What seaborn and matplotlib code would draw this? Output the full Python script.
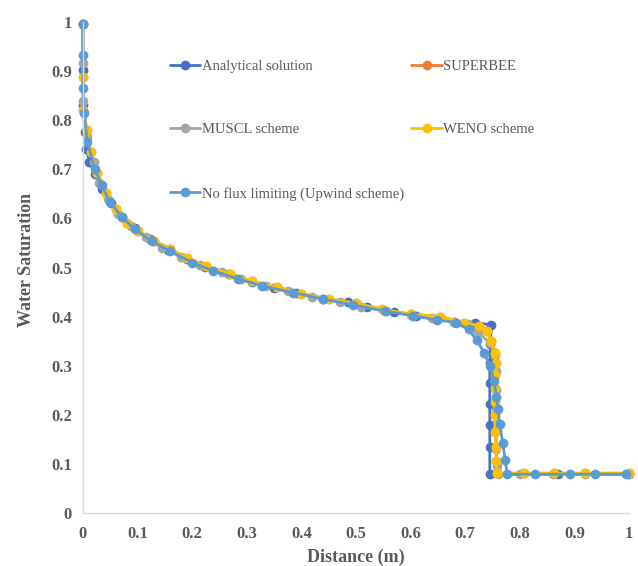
import matplotlib
matplotlib.use("Agg")
import matplotlib.pyplot as plt
import seaborn as sns
import pandas as pd

# ---- data ----
ana_x = [0, 0, 0.001, 0.003, 0.006, 0.012, 0.022, 0.035, 0.052, 0.072,
         0.095, 0.122, 0.155, 0.19, 0.223, 0.268, 0.31, 0.35, 0.39, 0.44,
         0.486, 0.52, 0.57, 0.61, 0.646, 0.68, 0.718, 0.748, 0.746, 0.745,
         0.745, 0.745, 0.745, 0.745, 0.745, 0.87, 1.0]
ana_y = [0.995, 0.902, 0.831, 0.775, 0.742, 0.715, 0.69, 0.66, 0.632, 0.603,
         0.58, 0.558, 0.535, 0.517, 0.502, 0.487, 0.47, 0.458, 0.449, 0.436,
         0.43, 0.419, 0.41, 0.402, 0.396, 0.39, 0.388, 0.383, 0.345, 0.305,
         0.264, 0.223, 0.179, 0.135, 0.079, 0.079, 0.079]

sb_x = [0, 0, 0.001, 0.007, 0.014, 0.026, 0.043, 0.06, 0.08, 0.1,
        0.13, 0.16, 0.19, 0.225, 0.27, 0.31, 0.355, 0.4, 0.45, 0.5,
        0.548, 0.6, 0.654, 0.698, 0.726, 0.739, 0.748, 0.755, 0.756, 0.755,
        0.754, 0.754, 0.754, 0.755, 0.756, 0.757, 0.758, 0.807, 0.863, 0.92, 1.0]
sb_y = [0.995, 0.889, 0.821, 0.78, 0.736, 0.692, 0.652, 0.62, 0.59, 0.575,
        0.555, 0.537, 0.52, 0.503, 0.487, 0.472, 0.46, 0.447, 0.436, 0.427,
        0.415, 0.405, 0.40, 0.388, 0.381, 0.371, 0.351, 0.325, 0.305, 0.281,
        0.255, 0.227, 0.2, 0.166, 0.135, 0.105, 0.081, 0.081, 0.081, 0.081, 0.081]

mu_x = [0, 0, 0.001, 0.007, 0.02, 0.03, 0.045, 0.065, 0.088, 0.115,
        0.145, 0.18, 0.215, 0.255, 0.29, 0.335, 0.375, 0.42, 0.47, 0.51,
        0.555, 0.6, 0.64, 0.68, 0.705, 0.723, 0.745, 0.755, 0.757, 0.757,
        0.757, 0.757, 0.757, 0.758, 0.76, 0.80, 0.86, 0.92, 1.0]
mu_y = [0.995, 0.916, 0.84, 0.766, 0.715, 0.672, 0.64, 0.61, 0.585, 0.562,
        0.54, 0.522, 0.505, 0.49, 0.477, 0.462, 0.452, 0.44, 0.43, 0.42,
        0.412, 0.403, 0.397, 0.39, 0.385, 0.369, 0.346, 0.322, 0.29, 0.25,
        0.21, 0.17, 0.13, 0.095, 0.079, 0.079, 0.079, 0.079, 0.079]

we_x = [0, 0, 0.001, 0.007, 0.014, 0.026, 0.043, 0.06, 0.08, 0.1,
        0.13, 0.16, 0.19, 0.225, 0.27, 0.31, 0.355, 0.4, 0.45, 0.5,
        0.548, 0.6, 0.654, 0.698, 0.726, 0.739, 0.748, 0.755, 0.756, 0.755,
        0.754, 0.754, 0.754, 0.755, 0.756, 0.757, 0.758, 0.807, 0.863, 0.92, 1.0]
we_y = [0.995, 0.889, 0.821, 0.78, 0.736, 0.692, 0.652, 0.62, 0.59, 0.575,
        0.555, 0.537, 0.52, 0.503, 0.487, 0.472, 0.46, 0.447, 0.436, 0.427,
        0.415, 0.405, 0.40, 0.388, 0.381, 0.371, 0.351, 0.325, 0.305, 0.281,
        0.255, 0.227, 0.2, 0.166, 0.135, 0.105, 0.081, 0.081, 0.081, 0.081, 0.081]

up_x = [0, 0, 0, 0.002, 0.008, 0.022, 0.034, 0.049, 0.071, 0.095,
        0.127, 0.16, 0.2, 0.239, 0.284, 0.327, 0.384, 0.439, 0.494, 0.554,
        0.604, 0.648, 0.684, 0.706, 0.721, 0.735, 0.745, 0.753, 0.757, 0.76,
        0.763, 0.769, 0.773, 0.777, 0.828, 0.891, 0.938, 0.994]
up_y = [0.995, 0.933, 0.866, 0.815, 0.756, 0.70, 0.668, 0.634, 0.603, 0.578,
        0.553, 0.533, 0.51, 0.493, 0.477, 0.463, 0.449, 0.436, 0.424, 0.411,
        0.402, 0.393, 0.388, 0.374, 0.352, 0.326, 0.30, 0.269, 0.237, 0.211,
        0.181, 0.142, 0.108, 0.079, 0.079, 0.079, 0.079, 0.079]

series_names = ["Analytical solution", "SUPERBEE", "MUSCL scheme",
                "WENO scheme", "No flux limiting (Upwind scheme)"]
series_x = [ana_x, sb_x, mu_x, we_x, up_x]
series_y = [ana_y, sb_y, mu_y, we_y, up_y]
colors = ["#4472C4", "#ED7D31", "#A5A5A5", "#FFC000", "#5B9BD5"]

sns.set_style("white")
plt.rcParams["font.family"] = ["Liberation Serif", "DejaVu Serif"]

fig = plt.figure(figsize=(6.38, 5.66), dpi=100)
ax = fig.add_axes([0.130, 0.0936, 0.856, 0.8675])

handles = {}
for name, xs, ys, c in zip(series_names, series_x, series_y, colors):
    df = pd.DataFrame({"x": xs, "y": ys})
    sns.lineplot(data=df, x="x", y="y", ax=ax, sort=False, estimator=None,
                 color=c, linewidth=2.0, marker="o", markersize=7,
                 markeredgewidth=0, label=name, clip_on=False)
    handles[name] = ax.get_lines()[-1]

ax.set_xlim(0, 1)
ax.set_ylim(0, 1)
ax.set_xticks([i / 10 for i in range(11)])
ax.set_yticks([i / 10 for i in range(11)])
ax.set_xticklabels(["0"] + [f"{i/10:.1f}" for i in range(1, 10)] + ["1"])
ax.set_yticklabels(["0"] + [f"{i/10:.1f}" for i in range(1, 10)] + ["1"])

for s in ["top", "right"]:
    ax.spines[s].set_visible(False)
for s in ["left", "bottom"]:
    ax.spines[s].set_color("#D9D9D9")
    ax.spines[s].set_linewidth(1.0)

ax.tick_params(axis="x", direction="out", length=5, color="#D9D9D9",
               labelsize=12, labelcolor="#595959", pad=4)
ax.tick_params(axis="y", direction="out", length=0, color="#D9D9D9",
               labelsize=12, labelcolor="#595959", pad=8)
for lab in ax.get_xticklabels() + ax.get_yticklabels():
    lab.set_fontweight("bold")

ax.set_xlabel("Distance (m)", fontsize=13, fontweight="bold", color="#595959",
              labelpad=5)
ax.set_ylabel("Water Saturation", fontsize=13, fontweight="bold",
              color="#595959")
ax.yaxis.set_label_coords(-0.087, 0.515)

order = ["Analytical solution", "MUSCL scheme",
         "No flux limiting (Upwind scheme)", "SUPERBEE", "WENO scheme"]
leg = ax.legend([handles[n] for n in order], order, ncol=2,
                loc="upper left", bbox_to_anchor=(0.135, 0.95),
                frameon=False, fontsize=10.5, labelspacing=3.45,
                handlelength=2.1, handletextpad=0.1, columnspacing=0.5,
                labelcolor="#595959")

fig.savefig("out.png", dpi=100)
